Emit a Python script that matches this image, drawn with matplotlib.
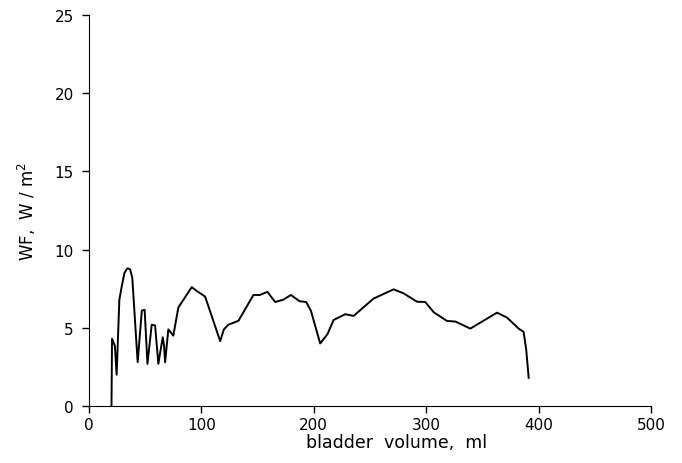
import matplotlib
matplotlib.use("Agg")
import matplotlib.pyplot as plt

# bladder volume (ml) vs WF (W/m^2)
volume = [20, 20.5, 23, 24.6, 27, 29, 31.5, 34, 36.5, 38.5, 43.3, 47, 49.5, 52,
          55.8, 58.8, 61.7, 65.6, 66.8, 67.7, 70.6, 75, 79.5, 85, 91.4, 95, 103.3,
          116.7, 120, 124, 133, 146.3, 152, 158.8, 165.6, 173, 179.6, 187.3, 193.2,
          197.4, 205.7, 212.2, 217.6, 228, 235.4, 253.2, 271, 280, 291.8, 299.2,
          306.6, 318.5, 326, 339.3, 363, 372, 382.3, 386.7, 389, 391.2]
wf = [0, 4.3, 3.85, 2.0, 6.8, 7.6, 8.5, 8.8, 8.75, 8.2, 2.8, 6.1, 6.15, 2.7,
      5.2, 5.15, 2.7, 4.4, 3.85, 2.8, 4.9, 4.5, 6.3, 6.9, 7.6, 7.4, 7.0,
      4.15, 4.9, 5.2, 5.45, 7.1, 7.1, 7.3, 6.65, 6.8, 7.1, 6.7, 6.65,
      6.1, 4.0, 4.6, 5.5, 5.87, 5.76, 6.87, 7.46, 7.2, 6.67, 6.65,
      6.0, 5.44, 5.4, 4.95, 5.97, 5.65, 4.95, 4.74, 3.6, 1.8]

xticks = [0, 100, 200, 300, 400, 500]
yticks = [0, 5, 10, 15, 20, 25]

fig = plt.figure(figsize=(6.82, 4.64), dpi=100)
ax = fig.add_axes([0.1305, 0.1228, 0.824, 0.8427])
ax.plot(volume, wf, color="black", linewidth=1.4)

ax.set_xlim(0, 500)
ax.set_ylim(0, 25)
ax.set_xticks(xticks)
ax.set_yticks(yticks)
ax.spines["top"].set_visible(False)
ax.spines["right"].set_visible(False)
ax.tick_params(direction="out", length=5, width=1, labelsize=11)
ax.tick_params(axis="x", pad=3)
ax.tick_params(axis="y", pad=6)
ax.set_xlabel("bladder  volume,  ml", fontsize=12.5)
ax.xaxis.set_label_coords(0.548, -0.07)
ax.set_ylabel("WF,  W / m$^2$", fontsize=12, labelpad=12)

fig.savefig("out.png", dpi=100)
